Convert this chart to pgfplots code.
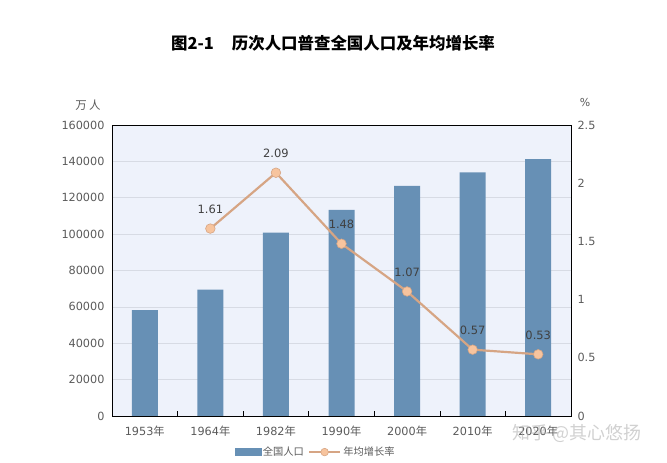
\documentclass[border=0pt]{standalone}
\usepackage{pgfplots}
\pgfplotsset{compat=1.18}
\usepackage{fontspec}
\setmainfont{DejaVu Sans}
\newfontfamily\cjk{Noto Sans CJK SC}
\definecolor{barc}{RGB}{103,144,181}
\definecolor{bgc}{RGB}{238,242,251}
\definecolor{linec}{RGB}{214,165,132}
\definecolor{markc}{RGB}{247,196,158}
\definecolor{tickc}{RGB}{90,90,90}
\definecolor{gridc}{RGB}{215,219,228}
\pgfplotsset{linelegend/.style={legend image code/.code={\draw[mark repeat=2,mark phase=2,##1, mark size=3.8bp] plot coordinates {(0cm,0cm) (0.55cm,0cm) (1.1cm,0cm)};}}}
\begin{document}
\begin{tikzpicture}
\path[use as bounding box] (0,0) rectangle (667bp,463bp);
\begin{axis}[at={(112bp,47bp)}, anchor=south west, width=459bp, height=291bp, scale only axis,
  xmin=-0.5, xmax=6.5, ymin=0, ymax=160000,
  axis background/.style={fill=bgc},
  xtick={0,...,6},
  xticklabels={1953{\cjk 年},1964{\cjk 年},1982{\cjk 年},1990{\cjk 年},2000{\cjk 年},2010{\cjk 年},2020{\cjk 年}},
  minor xtick={0.5,1.5,2.5,3.5,4.5,5.5},
  xtick pos=bottom,
  major x tick style={draw=none},
  minor x tick style={black, line width=0.6pt},
  minor tick length=5bp, tick align=inside,
  ytick={0,20000,...,160000}, ymajorgrids, grid style={gridc, line width=0.6pt},
  major y tick style={draw=none},
  y tick label style={/pgf/number format/fixed, /pgf/number format/1000 sep={}, xshift=-4bp},
  scaled y ticks=false,
  /pgf/number format/assume math mode=true,
  tick label style={font=\fontsize{11.3}{13}\selectfont, text=tickc},
  x tick label style={yshift=-6bp},
  axis line style={black, line width=0.6pt},
]
\addplot[ybar, bar width=26bp, fill=barc, draw=none] coordinates {(0,58260) (1,69458) (2,100818) (3,113368) (4,126583) (5,133972) (6,141178)};
\end{axis}
\begin{axis}[at={(112bp,47bp)}, anchor=south west, width=459bp, height=291bp, scale only axis,
  xmin=-0.5, xmax=6.5, ymin=0, ymax=2.5,
  axis x line=none, axis y line*=right,
  ytick={0,0.5,1,1.5,2,2.5},
  yticklabels={0,0.5,1,1.5,2,2.5},
  major y tick style={draw=none},
  y tick label style={xshift=3bp},
  /pgf/number format/assume math mode=true,
  tick label style={font=\fontsize{11.3}{13}\selectfont, text=tickc},
  axis line style={black, line width=0.6pt},
  legend style={at={(0.444,-0.124)}, anchor=center, draw=none, fill=none, legend columns=2,
    font=\cjk\fontsize{10.3}{12}\selectfont, text=tickc,
    /tikz/every even column/.append style={column sep=2bp}},
]
\addlegendimage{area legend, legend image code/.code={\fill[barc] (0cm,-0.12cm) rectangle (0.9cm,0.12cm);}}
\addlegendentry{全国人口}
\addplot[linec, line width=2.2pt, mark=*, mark size=4.8bp,
  mark options={fill=markc, draw=linec, line width=0.6pt},
  linelegend,
  nodes near coords, point meta=explicit symbolic,
  every node near coord/.style={anchor=center, yshift=19bp, font=\fontsize{11.5}{13}\selectfont, text=black!75}]
  coordinates {(1,1.61)[1.61] (2,2.09)[2.09] (3,1.48)[1.48] (4,1.07)[1.07] (5,0.57)[0.57] (6,0.53)[0.53]};
\addlegendentry{年均增长率}
\end{axis}
\node[font=\cjk\bfseries\fontsize{16.5}{19}\selectfont] at (333bp,420bp) {图2-1\hspace{1.1em}历次人口普查全国人口及年均增长率};
\node[font=\cjk\fontsize{11.5}{13}\selectfont, text=tickc] at (88bp,358bp) {万\hspace{0.2em}人};
\node[font=\fontsize{11}{13}\selectfont, text=tickc] at (585bp,360bp) {\%};
\node[font=\cjk\fontsize{18}{20}\selectfont, text=gray!60, opacity=0.6] at (577bp,29bp) {知乎 @其心悠扬};
\end{tikzpicture}
\end{document}
